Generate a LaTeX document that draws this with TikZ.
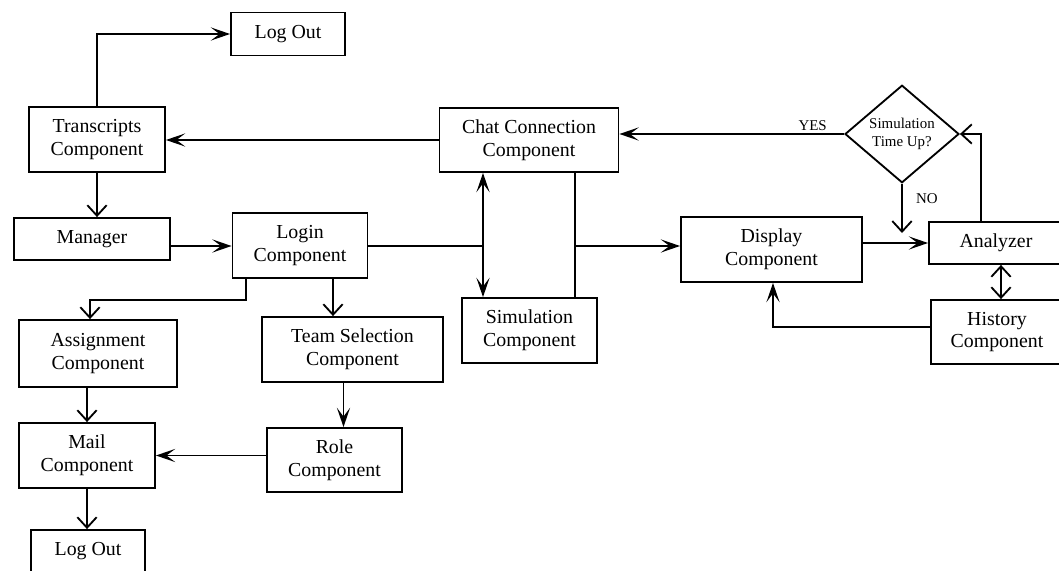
\documentclass[tikz,border=0pt]{standalone}
\usepackage{fontspec}
\setmainfont{Liberation Serif}
\usetikzlibrary{shapes.geometric,arrows.meta}

\begin{document}
\begin{tikzpicture}[x=0.02cm,y=-0.02cm,line width=1.05pt,
	blk/.style={draw,align=center,inner sep=1pt,font=\fontsize{11.3}{13}\selectfont},
	sarr/.style={-{Stealth[length=11pt,width=7.5pt,inset=5pt]}},
	sdbl/.style={{Stealth[length=11pt,width=7.5pt,inset=5pt]}-{Stealth[length=11pt,width=7.5pt,inset=5pt]}},
	varr/.style={-{Straight Barb[length=6pt,width=11pt]}},
	vdbl/.style={{Straight Barb[length=6pt,width=11pt]}-{Straight Barb[length=6pt,width=11pt]}},
	lbl/.style={font=\fontsize{8.5}{10}\selectfont,inner sep=1.5pt}]
			\useasboundingbox (0,0) rectangle (1059,571);
			\node[blk,minimum width=2.28cm,minimum height=0.86cm] (logtop) at (288,34) {Log Out};
			\node[blk,minimum width=2.72cm,minimum height=1.30cm] (trans) at (97,139.5) {Transcripts\\Component};
			\node[blk,minimum width=3.58cm,minimum height=1.28cm] (chat) at (529,140) {Chat Connection\\Component};
			\node[draw,diamond,inner sep=0pt,minimum width=2.28cm,minimum height=1.64cm,align=center,font=\fontsize{8.5}{10.5}\selectfont] (timeup) at (902,134) {Simulation\\Time Up?};
			\node[blk,minimum width=3.12cm,minimum height=0.84cm] (manager) at (92,239) {Manager};
			\node[blk,minimum width=2.70cm,minimum height=1.30cm] (login) at (300,245.5) {Login\\Component};
			\node[blk,minimum width=3.62cm,minimum height=1.30cm] (display) at (771.5,249.5) {Display\\Component};
			\node[blk,minimum width=2.68cm,minimum height=0.84cm] (analyzer) at (996,243) {Analyzer};
			\node[blk,minimum width=3.16cm,minimum height=1.34cm] (assign) at (98,353.5) {Assignment\\Component};
			\node[blk,minimum width=3.62cm,minimum height=1.30cm] (team) at (352.5,349.5) {Team Selection\\Component};
			\node[blk,minimum width=2.70cm,minimum height=1.30cm] (sim) at (529.5,330.5) {Simulation\\Component};
			\node[blk,minimum width=2.64cm,minimum height=1.28cm] (history) at (997,332) {History\\Component};
			\node[blk,minimum width=2.72cm,minimum height=1.30cm] (mail) at (87,455.5) {Mail\\Component};
			\node[blk,minimum width=2.70cm,minimum height=1.28cm] (role) at (334.5,460) {Role\\Component};
			\node[blk,minimum width=2.28cm,minimum height=0.86cm] (logbot) at (88,551.5) {Log Out};
			\coordinate (busl) at (483,246);
			\coordinate (busr) at (575,246);
			\coordinate (noend) at (902,233);
			\draw[sarr] (trans.north) |- (logtop.west);
			\draw[sarr] (chat.west) -- (chat.west -| trans.east);
			\draw[varr] (trans.south) -- (trans.south |- manager.north);
			\draw[sarr] (manager.east |- busl) -- (login.west |- busl);
			\draw (login.east |- busl) -- (busl);
			\draw[sdbl] (chat.south -| busl) -- (sim.north -| busl);
			\draw (chat.south -| busr) -- (sim.north -| busr);
			\draw[sarr] (busr) -- (busr -| display.west);
			\draw[sarr] (display.east |- analyzer.west) -- (analyzer.west);
			\draw[varr] ([xshift=-0.30cm]analyzer.north) |- (timeup.east);
			\draw[sarr] (timeup.west) -- node[lbl,pos=0.14,above]{YES} (timeup.west -| chat.east);
			\draw[varr] (timeup.south) -- node[lbl,pos=0.3,right=6pt]{NO} (noend);
			\draw[vdbl] ([xshift=0.1cm]analyzer.south) -- ([xshift=0.1cm]analyzer.south |- history.north);
			\draw[sarr] ([yshift=0.1cm]history.west) -| ([xshift=0.03cm]display.south);
			\draw[varr] ([xshift=0.28cm]login.south west) -- ++(0,21) -| ([xshift=-0.16cm]assign.north);
			\draw[varr] ([xshift=0.66cm]login.south) -- ([xshift=0.66cm]login.south |- team.north);
			\draw[varr] (assign.south -| mail.north) -- (mail.north);
			\draw[sarr] ([xshift=0.18cm]role.north |- team.south) -- ([xshift=0.18cm]role.north);
			\draw[sarr] (role.west |- mail.east) -- (mail.east);
			\draw[varr] (mail.south) -- (mail.south |- logbot.north);
		\end{tikzpicture}
\end{document}
